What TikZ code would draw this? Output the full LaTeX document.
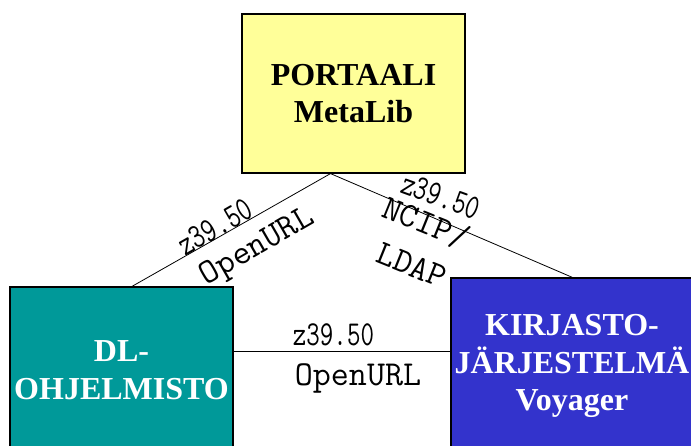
\documentclass[tikz,border=0pt]{standalone}
\usepackage{graphicx}
\usepackage{fontspec}
\setmainfont{Liberation Serif}
\definecolor{portyellow}{RGB}{255,255,153}
\definecolor{dlteal}{RGB}{0,153,153}
\definecolor{kirblue}{RGB}{51,51,204}
\newcommand{\narrowlab}[1]{\scalebox{0.75}[1]{#1}}
\begin{document}
\begin{tikzpicture}[x=1pt,y=-1pt,
  box/.style={draw=black, line width=1.2pt, inner sep=0pt, align=center,
    font=\fontsize{32}{37.5}\selectfont\bfseries},
  link/.style={draw=black, line width=0.8pt},
  lab/.style={inner sep=0pt, font=\fontsize{35}{40}\selectfont\ttfamily}]
\useasboundingbox (0,0) rectangle (691,446);
\clip (0,0) rectangle (691,446);
\fill[white] (0,0) rectangle (691,446);

\node[box, fill=portyellow, minimum width=223pt, minimum height=159pt] (top) at (353.5,93.5) {PORTAALI\\MetaLib};
\node[box, fill=dlteal, text=white, minimum width=223pt, minimum height=166pt] (dl) at (121.5,370) {DL-\\OHJELMISTO};
\node[box, fill=kirblue, text=white, minimum width=242pt, minimum height=176pt] (kir) at (572,366) {KIRJASTO-\\JÄRJESTELMÄ\\Voyager};

\coordinate (topL) at ([xshift=-23pt]top.south);
\coordinate (dlN) at ([xshift=10.5pt]dl.north);
\coordinate (kirN) at ([xshift=122pt]kir.north west);
\coordinate (dlE) at ([yshift=19pt]dl.east);
\coordinate (kirW) at ([yshift=15pt]kir.west);

\draw[link] (topL) -- (dlN);
\draw[link] (topL) -- (kirN);
\draw[link] (dlE) -- (kirW);

\node[lab, rotate=30] (lz) at (215,227) {\narrowlab{z39.50}};
\node[lab, rotate=30] (lo) at (258,248) {OpenURL};
\node[lab, rotate=-20] (rz) at (441,196) {\narrowlab{z39.50}};
\node[lab, rotate=-22] (rn) at (426,223) {NCIP/};
\node[lab, rotate=-22] (rl) at (412,265) {LDAP};
\node[lab, anchor=base] (hz) at (333.5,345) {\narrowlab{z39.50}};
\node[lab, anchor=base] (ho) at (358,385) {OpenURL};
\end{tikzpicture}
\end{document}
